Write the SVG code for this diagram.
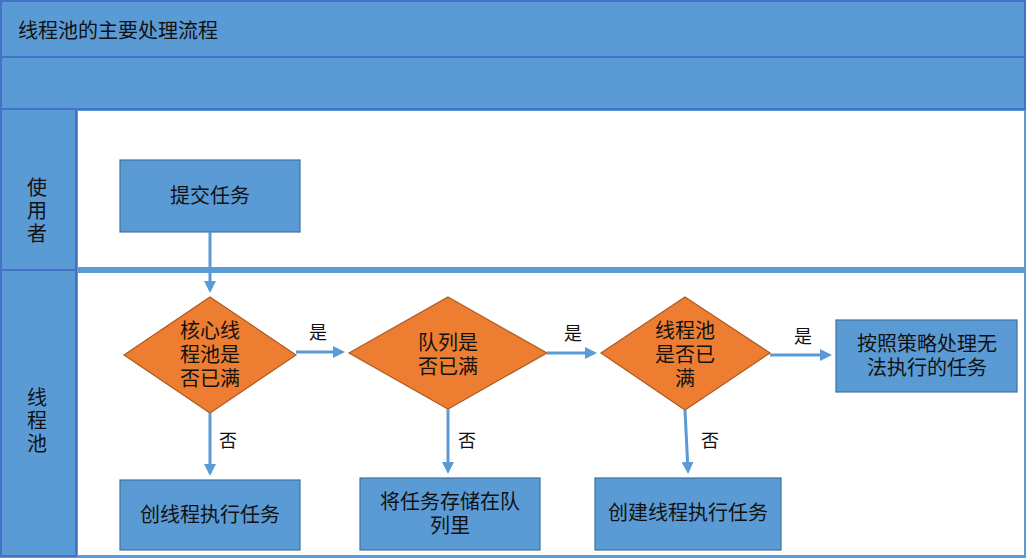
<svg xmlns="http://www.w3.org/2000/svg" width="1026" height="558" viewBox="0 0 1026 558">
<style>
.band{fill:#5B9BD5;stroke:#4472C4;stroke-width:2}
.box{fill:#5B9BD5;stroke:#41719C;stroke-width:1.2}
.dia{fill:#ED7D31;stroke:#AE5A21;stroke-width:1.2}
text{font-family:"Liberation Serif","Noto Sans CJK SC",serif;font-size:20px;fill:#111;text-anchor:middle}
.lbl{font-size:18px}
.c{stroke:#5B9BD5;stroke-width:3;fill:none;marker-end:url(#ah)}
</style>
<defs><marker id="ah" markerWidth="4" markerHeight="4" refX="3" refY="2" orient="auto"><path d="M0,0L4,2L0,4z" fill="#5B9BD5"/></marker></defs>
<rect x="0" y="0" width="1026" height="558" fill="#5B9BD5"/>
<rect class="band" x="1" y="1" width="1024" height="56"/>
<rect class="band" x="1" y="57" width="1024" height="52"/>
<rect class="band" x="1" y="109" width="75" height="161"/>
<rect class="band" x="1" y="270" width="75" height="286"/>
<rect x="78" y="111" width="946" height="156" fill="#fff"/>
<rect x="78" y="273" width="946" height="282" fill="#fff"/>
<text x="18" y="38" style="text-anchor:start">线程池的主要处理流程</text>
<text x="37" y="195">使</text><text x="37" y="218">用</text><text x="37" y="241">者</text>
<text x="37" y="405">线</text><text x="37" y="428">程</text><text x="37" y="451">池</text>
<g id="n1"><rect class="box" x="120" y="160" width="180" height="72"/><text x="210" y="203">提交任务</text></g>
<g id="d1"><polygon class="dia" points="210,297 296,355 210,413 124,355"/><text x="210" y="338">核心线</text><text x="210" y="362">程池是</text><text x="210" y="386">否已满</text></g>
<g id="d2"><polygon class="dia" points="448,297 547,353 448,409 349,353"/><text x="448" y="350">队列是</text><text x="448" y="374">否已满</text></g>
<g id="d3"><polygon class="dia" points="685,297 770,353 685,410 601,353"/><text x="685" y="338">线程池</text><text x="685" y="362">是否已</text><text x="685" y="386">满</text></g>
<g id="n2"><rect class="box" x="836" y="320" width="181" height="72"/><text x="927" y="351">按照策略处理无</text><text x="927" y="375">法执行的任务</text></g>
<g id="n3"><rect class="box" x="120" y="480" width="180" height="70"/><text x="210" y="522">创线程执行任务</text></g>
<g id="n4"><rect class="box" x="360" y="478" width="180" height="72"/><text x="450" y="509">将任务存储在队</text><text x="450" y="533">列里</text></g>
<g id="n5"><rect class="box" x="595" y="478" width="186" height="72"/><text x="688" y="520">创建线程执行任务</text></g>
<g id="connectors">
<path class="c" d="M210,232V290"/>
<path class="c" d="M296,352H342"/>
<path class="c" d="M547,353H594"/>
<path class="c" d="M770,355H829"/>
<path class="c" d="M210,413V473"/>
<path class="c" d="M448,409V471"/>
<path class="c" d="M685,410L688,471"/>
</g>
<text class="lbl" x="318" y="339">是</text>
<text class="lbl" x="573" y="340">是</text>
<text class="lbl" x="803" y="343">是</text>
<text class="lbl" x="228" y="447">否</text>
<text class="lbl" x="467" y="447">否</text>
<text class="lbl" x="710" y="447">否</text>
</svg>
